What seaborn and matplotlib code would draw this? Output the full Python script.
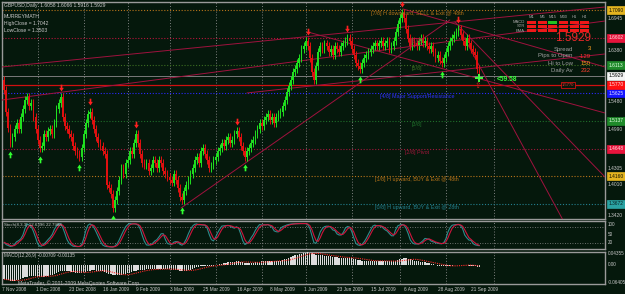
import numpy as np
import pandas as pd
import matplotlib
matplotlib.use("Agg")
import matplotlib.pyplot as plt
from matplotlib.path import Path
from matplotlib.patches import Rectangle
import seaborn as sns

# ---------------- data ----------------
FIRST_OPEN = 1.5850
CLOSES = [
    1.568, 1.529, 1.501, 1.474, 1.485, 1.500, 1.510, 1.500, 1.520, 1.535,
    1.550, 1.555, 1.540, 1.545, 1.520, 1.500, 1.480, 1.465, 1.470, 1.490,
    1.485, 1.495, 1.500, 1.490, 1.510, 1.535, 1.545, 1.555, 1.520, 1.505,
    1.500, 1.490, 1.485, 1.470, 1.460, 1.455, 1.450, 1.465, 1.490, 1.510,
    1.525, 1.530, 1.515, 1.500, 1.485, 1.475, 1.470, 1.460, 1.455, 1.400,
    1.395, 1.385, 1.360, 1.375, 1.390, 1.410, 1.430, 1.420, 1.440, 1.445,
    1.460, 1.455, 1.475, 1.490, 1.475, 1.455, 1.440, 1.435, 1.440, 1.425,
    1.430, 1.445, 1.440, 1.430, 1.445, 1.440, 1.425, 1.420, 1.415, 1.410,
    1.405, 1.420, 1.410, 1.395, 1.380, 1.375, 1.390, 1.400, 1.410, 1.420,
    1.430, 1.445, 1.450, 1.440, 1.460, 1.465, 1.455, 1.445, 1.430, 1.435,
    1.445, 1.450, 1.460, 1.465, 1.475, 1.470, 1.480, 1.485, 1.475, 1.480,
    1.490, 1.495, 1.485, 1.470, 1.460, 1.450, 1.460, 1.465, 1.475, 1.480,
    1.490, 1.500, 1.510, 1.505, 1.515, 1.520, 1.525, 1.515, 1.520, 1.510,
    1.520, 1.525, 1.530, 1.540, 1.550, 1.565, 1.575, 1.585, 1.600, 1.605,
    1.615, 1.625, 1.640, 1.645, 1.655, 1.645, 1.625, 1.600, 1.585, 1.610,
    1.635, 1.645, 1.640, 1.650, 1.645, 1.635, 1.640, 1.630, 1.645, 1.640,
    1.635, 1.645, 1.650, 1.655, 1.660, 1.655, 1.640, 1.630, 1.615, 1.610,
    1.605, 1.615, 1.625, 1.630, 1.635, 1.640, 1.645, 1.650, 1.645, 1.650,
    1.655, 1.645, 1.650, 1.655, 1.640, 1.645, 1.655, 1.670, 1.685, 1.695,
    1.704, 1.695, 1.675, 1.660, 1.645, 1.655, 1.650, 1.645, 1.655, 1.660,
    1.650, 1.655, 1.645, 1.640, 1.645, 1.635, 1.625, 1.630, 1.620, 1.615,
    1.625, 1.635, 1.645, 1.655, 1.660, 1.665, 1.670, 1.675, 1.665, 1.655,
    1.645, 1.660, 1.650, 1.640, 1.635, 1.630, 1.6058, 1.5929,
]
MACD_MAIN = [
    -0.052, -0.054, -0.056, -0.058, -0.059, -0.058, -0.056, -0.054, -0.051, -0.048,
    -0.045, -0.042, -0.040, -0.039, -0.039, -0.040, -0.042, -0.043, -0.043, -0.042,
    -0.041, -0.039, -0.037, -0.035, -0.032, -0.029, -0.025, -0.022, -0.021, -0.021,
    -0.022, -0.023, -0.024, -0.026, -0.028, -0.029, -0.030, -0.029, -0.027, -0.025,
    -0.022, -0.020, -0.019, -0.019, -0.020, -0.021, -0.022, -0.023, -0.024, -0.028,
    -0.031, -0.034, -0.037, -0.038, -0.038, -0.037, -0.035, -0.034, -0.032, -0.030,
    -0.028, -0.026, -0.023, -0.020, -0.018, -0.017, -0.017, -0.017, -0.016, -0.016,
    -0.016, -0.015, -0.015, -0.015, -0.014, -0.014, -0.014, -0.015, -0.015, -0.016,
    -0.017, -0.017, -0.018, -0.019, -0.021, -0.022, -0.022, -0.021, -0.019, -0.017,
    -0.014, -0.011, -0.008, -0.007, -0.005, -0.003, -0.002, -0.002, -0.003, -0.003,
    -0.002, -0.001, 0.001, 0.003, 0.005, 0.006, 0.008, 0.010, 0.010, 0.011,
    0.012, 0.013, 0.013, 0.012, 0.010, 0.009, 0.008, 0.008, 0.008, 0.009,
    0.010, 0.011, 0.012, 0.013, 0.013, 0.014, 0.015, 0.015, 0.015, 0.014,
    0.014, 0.015, 0.016, 0.018, 0.020, 0.023, 0.026, 0.029, 0.032, 0.035,
    0.037, 0.039, 0.041, 0.043, 0.045, 0.046, 0.045, 0.042, 0.039, 0.038,
    0.037, 0.036, 0.035, 0.034, 0.033, 0.032, 0.031, 0.030, 0.029, 0.028,
    0.027, 0.026, 0.026, 0.026, 0.027, 0.026, 0.025, 0.023, 0.021, 0.019,
    0.017, 0.016, 0.015, 0.015, 0.015, 0.015, 0.015, 0.015, 0.015, 0.015,
    0.015, 0.014, 0.014, 0.014, 0.013, 0.013, 0.013, 0.014, 0.017, 0.020,
    0.023, 0.025, 0.024, 0.022, 0.020, 0.018, 0.016, 0.014, 0.013, 0.012,
    0.011, 0.010, 0.009, 0.008, 0.004, 0.002, 0.000, -0.002, -0.003, -0.004,
    -0.005, -0.005, -0.004, -0.003, -0.002, -0.001, 0.000, 0.001, 0.001, 0.000,
    -0.001, -0.001, -0.002, -0.003, -0.004, -0.005, -0.006, -0.007,
]

DATE_LABELS = ["7 Nov 2008", "1 Dec 2008", "23 Dec 2008", "16 Jan 2009", "9 Feb 2009",
               "3 Mar 2009", "25 Mar 2009", "16 Apr 2009", "8 May 2009", "1 Jun 2009",
               "23 Jun 2009", "15 Jul 2009", "6 Aug 2009", "28 Aug 2009", "21 Sep 2009"]
DATE_LABEL_BARS = [0, 16, 32, 48, 64, 80, 96, 112, 128, 144, 160, 176, 192, 208, 224]
MONTH_START_BARS = [16, 38, 59, 79, 101, 123, 144, 166, 189, 211, 234]

UP_FRACTAL_BARS = [3, 17, 36, 52, 85, 115, 170, 209]
DOWN_FRACTAL_BARS = [27, 41, 63, 111, 145, 164, 190, 217]

MM_LEVELS = [1.3672, 1.4160, 1.4648, 1.5137, 1.5625, 1.6113, 1.6602, 1.7090]
MM_TEXTS = ["[0/8] H upward, BUY & Exit @ 28th", "[1/8] H upward, BUY & Exit @ 48th",
            "[2/8] Pivot", "[3/8]", "[4/8] Major Support/Resistance", "[5/8]", "[6/8]",
            "[7/8] H downward, SELL & Exit @ 48th"]
MM_LINE_COLORS = ["#23808f", "#b8741a", "#a0163a", "#1f6e2a", "#2a2aff", "#3d6e22", "#b8143a", "#b8741a"]
MM_BOX_COLORS = ["#2aa3a3", "#e3b420", "#e8143c", "#1f8a2a", "#1414ff", "#1f8a2a", "#e8143c", "#e3b420"]
MM_BOX_TEXT = ["#062020", "#101000", "#ffe0e0", "#e0ffe0", "#e0e0ff", "#e0ffe0", "#ffe0e0", "#101000"]
MM_TEXT_BAR = 197.2

PIVOT_LINE = 1.5770
BID = 1.5929
PRICE_TICKS = [1.3420, 1.4010, 1.4305, 1.4990, 1.5480, 1.6380, 1.6945]
PRICE_TICK_TEXT = ["1.3420", "1.4010", "1.4305", "1.4990", "1.5480", "1.6380", "1.6945"]

# trend lines: (start bar, start price) -> (end bar, end price)
TREND_X0 = [-1, -1, 84.5, 116, 145.1, 217.2, 215.3, 190.5]
TREND_Y0 = [1.6086, 1.5504, 1.3601, 1.5628, 1.6702, 1.6773, 1.6879, 1.7108]
TREND_X1 = [287, 287, 212.9, 287, 287, 266.9, 287, 287]
TREND_Y1 = [1.7143, 1.6896, 1.6914, 1.6315, 1.5275, 1.3390, 1.4147, 1.6086]

STOCH_TICKS = [100, 50, 20]
MACD_TICKS = [0.04355, 0.0, -0.06405]
MACD_TICK_TEXT = ["0.04355", "0.00", "-0.06405"]

TF_LABELS = ["M1", "M5", "M15", "M30", "H1", "H4"]
ROW_LABELS = ["MACD", "STR", "EMA"]
SIGNAL_STATE = [[0, 0, 1, 0, 0, 0], [0, 0, 0, 0, 0, 0], [0, 0, 0, 0, 0, 0]]
STAT_LABELS = ["Spread", "Pips to Open", "Hi to Low", "Daily Av"]
STAT_VALUES = ["3", "-129", "150", "232"]
STAT_COLORS = ["#ffa020", "#ff3030", "#ffa020", "#ff4030"]

# ---------------- style ----------------
BG = "#05180c"
GRID = "#8c8c8c"
SPINE = "#9a9a9a"
TXT = "#c8c8c8"
BULL = "#1fe01f"
BEAR = "#e01010"
TREND = "#a0123e"
WICK = 0.007

sns.set_style("dark")
plt.rcParams["font.family"] = ["Liberation Sans", "DejaVu Sans"]

W, H = 625, 294
fig = plt.figure(figsize=(W / 100, H / 100), dpi=100)
fig.patch.set_facecolor(BG)


def axrect(x0, y0, x1, y1):
    return [x0 / W, 1 - y1 / H, (x1 - x0) / W, (y1 - y0) / H]


def ftext(x, y, s, **kw):
    fig.text(x / W, 1 - y / H, s, **kw)


ax = fig.add_axes(axrect(2, 2, 605, 219))
ax_st = fig.add_axes(axrect(2, 221, 605, 249))
ax_m = fig.add_axes(axrect(2, 252, 605, 284))

n = len(CLOSES)
idx = np.arange(n)
c = np.array(CLOSES)
o = np.concatenate([[FIRST_OPEN], c[:-1]])
hi = np.maximum(o, c) + WICK
lo = np.minimum(o, c) - WICK

# ---------------- main panel ----------------
for lvl, lc in zip(MM_LEVELS, MM_LINE_COLORS):
    ax.axhline(lvl, color=lc, lw=0.8, ls=(0, (1, 1.6)), zorder=2)
ax.axhline(PIVOT_LINE, color="#d01010", lw=0.9, zorder=2)
ax.axhline(BID, color="#7a7a7a", lw=0.7, zorder=2)

for x0, y0, x1, y1 in zip(TREND_X0, TREND_Y0, TREND_X1, TREND_Y1):
    ax.plot([x0, x1], [y0, y1], color=TREND, lw=0.7, zorder=3)

up = c >= o
for mask, col in ((up, BULL), (~up, BEAR)):
    ax.vlines(idx[mask], lo[mask], hi[mask], color=col, lw=0.7, zorder=4)
    ax.bar(idx[mask], (c - o)[mask], bottom=o[mask], width=0.8, color=col, lw=0, zorder=4)

dverts = [(-0.2, 0.9), (0.2, 0.9), (0.2, 0.15), (0.55, 0.15), (0, -0.7), (-0.55, 0.15), (-0.2, 0.15), (-0.2, 0.9)]
codes = [Path.MOVETO] + [Path.LINETO] * 6 + [Path.CLOSEPOLY]
down_arrow = Path(dverts, codes)
up_arrow = Path([(x, -y) for x, y in dverts], codes)
db = np.array(DOWN_FRACTAL_BARS)
ub = np.array(UP_FRACTAL_BARS)
ax.scatter(db, hi[db] + 0.009, marker=down_arrow, s=30, color="#ff2020", lw=0, zorder=6)
ax.scatter(ub, lo[ub] - 0.011, marker=up_arrow, s=30, color="#30ff30", lw=0, zorder=6)
ax.scatter([n - 1], [lo[-1] + 0.004], marker="+", s=28, color="#40ff40", lw=1.4, zorder=7)
ax.text(n - 1.5, lo[-1] - 0.010, "\u21e7", color="#e02020", fontsize=5.5, ha="center", va="center", zorder=7,
        family=["DejaVu Sans"])
ax.text(235.4, 1.5874, "<59.58", color="#3cff3c", fontsize=4.8, fontweight="bold", ha="left", va="center", zorder=7)
ax.text(269.3, PIVOT_LINE, f"{PIVOT_LINE:.4f}", color="#ff3030", fontsize=3.0, ha="center", va="center", zorder=7,
        bbox=dict(boxstyle="square,pad=0.25", fc=BG, ec="#d01010", lw=0.6))

for lvl, txt, lc in zip(MM_LEVELS, MM_TEXTS, MM_LINE_COLORS):
    kw = {}
    if txt == "[6/8]":
        kw["bbox"] = dict(boxstyle="square,pad=0.2", fc="none", ec="#c0143c", lw=0.6)
    ax.text(MM_TEXT_BAR, lvl - 0.0062, txt, color=lc if lc != "#2a2aff" else "#3030ff",
            fontsize=3.9, ha="center", va="center", zorder=6, **kw)

ytr = ax.get_yaxis_transform()
for v, t in zip(PRICE_TICKS, PRICE_TICK_TEXT):
    ax.text(1.004, v, t, transform=ytr, fontsize=3.5, color=TXT, ha="left", clip_on=False,
            va="bottom" if v < 1.35 else "center")
box_vals = MM_LEVELS + [PIVOT_LINE, BID]
box_fc = MM_BOX_COLORS + ["#ff1010", "#f4f4f4"]
box_tc = MM_BOX_TEXT + ["#ffe8e8", "#000000"]
for v, fc, tc in zip(box_vals, box_fc, box_tc):
    ax.text(1.006, v, f"{v:.4f}", transform=ytr, fontsize=3.5, color=tc, va="center", ha="left", clip_on=False,
            bbox=dict(boxstyle="square,pad=0.3", fc=fc, ec=fc, lw=0.5), zorder=8)

# ---------------- stochastic ----------------
hs, ls_ = pd.Series(hi), pd.Series(lo)
cs = pd.Series(c)
ll = ls_.rolling(8, min_periods=1).min()
hh = hs.rolling(8, min_periods=1).max()
k = 100 * (cs - ll).rolling(3, min_periods=1).sum() / (hh - ll).rolling(3, min_periods=1).sum()
d = k.rolling(3, min_periods=1).mean()
for lvl in (80, 20):
    ax_st.axhline(lvl, color=GRID, lw=0.6, ls=(0, (1, 2)), zorder=1)
sns.lineplot(x=idx, y=k.values, ax=ax_st, color="#2e8c8c", lw=0.8, zorder=3)
sns.lineplot(x=idx, y=d.values, ax=ax_st, color="#d0143c", lw=0.8, zorder=4)
ax_st.set_ylim(-2.5, 102.5)
st_tr = ax_st.get_yaxis_transform()
for v in STOCH_TICKS:
    ax_st.text(1.004, v, str(v), transform=st_tr, fontsize=3.3, color=TXT, ha="left", clip_on=False,
               va="top" if v == 100 else "center")

# ---------------- MACD ----------------
macd = pd.Series(MACD_MAIN)
sig = macd.rolling(9, min_periods=1).mean()
ax_m.bar(idx, macd.values, width=0.6, color="#dcdcdc", lw=0, zorder=3)
sns.lineplot(x=idx, y=sig.values, ax=ax_m, color="#ff2a2a", lw=0.8, linestyle=(0, (1, 1)), zorder=4)
ax_m.set_ylim(-0.069, 0.0472)
m_tr = ax_m.get_yaxis_transform()
for v, t in zip(MACD_TICKS, MACD_TICK_TEXT):
    ax_m.text(1.004, v, t, transform=m_tr, fontsize=3.3, color=TXT, va="center", ha="left", clip_on=False)
x_tr = ax_m.get_xaxis_transform()
for b, lab in zip(DATE_LABEL_BARS, DATE_LABELS):
    ax_m.text(b - 0.8, -0.16, lab, transform=x_tr, fontsize=3.4, color=TXT, ha="left", va="center", clip_on=False)

for a in (ax, ax_st, ax_m):
    a.set_facecolor(BG)
    a.grid(False)
    a.set_xlim(-1, 287)
    a.set_xticks([])
    a.set_yticks([])
    a.set_xlabel("")
    a.set_ylabel("")
    for b in MONTH_START_BARS:
        a.axvline(b, color=GRID, lw=0.6, ls=(0, (1.2, 2.2)), zorder=1)
    for s in a.spines.values():
        s.set_color(SPINE)
        s.set_linewidth(1.0)
ax.set_ylim(1.3407, 1.7231)

# ---------------- texts & info panel ----------------
ftext(4, 5, "GBPUSD,Daily  1.6058 1.6066 1.5916 1.5929", fontsize=3.6, color=TXT, va="center")
ftext(4, 16, "MURREYMATH", fontsize=3.7, color=TXT, va="center")
ftext(4, 23, "HighClose = 1.7042", fontsize=3.6, color=TXT, va="center")
ftext(4, 30, "LowClose = 1.3503", fontsize=3.6, color=TXT, va="center")
ftext(4, 225, "Stoch(8,3,3) 12.6396 22.7988", fontsize=3.2, color=TXT, va="center")
ftext(4, 256, "MACD(12,26,9) -0.00709 -0.00135", fontsize=3.3, color=TXT, va="center")
ftext(18, 283, "MetaTrader, \u00a9 2001-2009 MetaQuotes Software Corp.", fontsize=3.6, color=TXT, va="center")

col_x = [527, 538, 548, 559, 570, 580]
row_y = [20.7, 25.0, 29.3]
for j, lab in enumerate(TF_LABELS):
    ftext(col_x[j] + 4.7, 17, lab, fontsize=3.0, color="#a8a8a8", ha="center", va="center")
for r, lab in enumerate(ROW_LABELS):
    ftext(525, row_y[r] + 1.4, lab, fontsize=3.0, color="#a8a8a8", ha="right", va="center")
    for j in range(len(TF_LABELS)):
        colr = "#22c022" if SIGNAL_STATE[r][j] else "#ee1818"
        fig.add_artist(Rectangle((col_x[j] / W, 1 - (row_y[r] + 2.9) / H), 9.4 / W, 2.9 / H,
                                 transform=fig.transFigure, fc=colr, ec="none"))
ftext(573, 38, "1.5929", fontsize=8.5, color="#e82828", ha="center", va="center")
for r, (lab, val, vc) in enumerate(zip(STAT_LABELS, STAT_VALUES, STAT_COLORS)):
    yy = [49, 56, 63.5, 71][r]
    ftext(573, yy, lab, fontsize=4.3, color="#a0a0a0", ha="right", va="center")
    ftext(591, yy, val, fontsize=4.3, color=vc, ha="right", va="center")

fig.savefig("out.png", dpi=100, facecolor=BG)
